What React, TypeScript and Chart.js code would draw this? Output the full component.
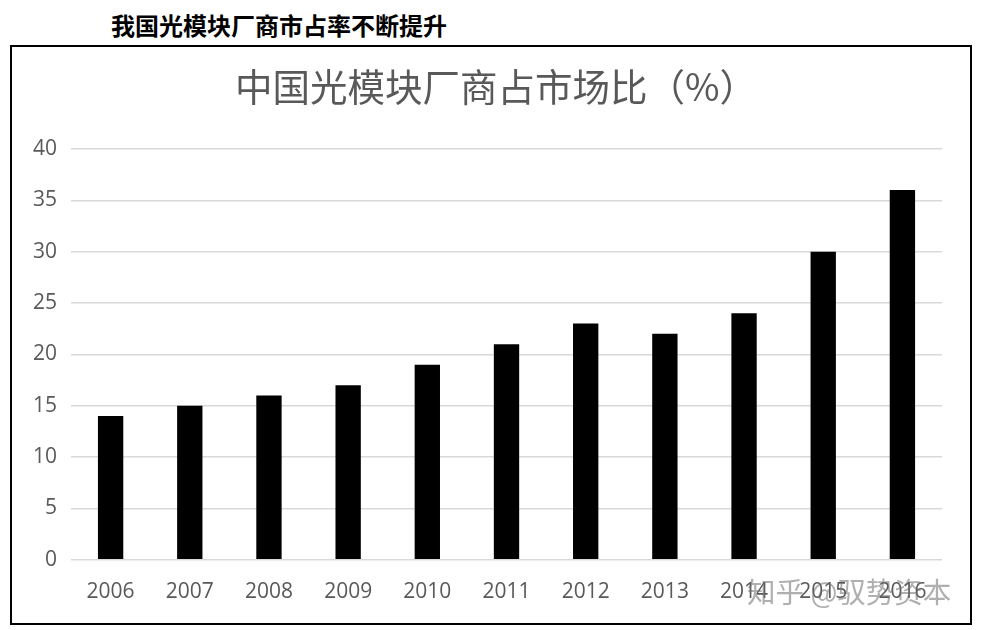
import React, { useEffect, useRef } from "react";
import { Chart, registerables } from "chart.js";

Chart.register(...registerables);

const categories = ["2006", "2007", "2008", "2009", "2010", "2011", "2012", "2013", "2014", "2015", "2016"];
const shareValues = [14, 15, 16, 17, 19, 21, 23, 22, 24, 30, 36];
const heading = "我国光模块厂商市占率不断提升";
const chartTitle = "中国光模块厂商占市场比（%）";
const watermark = "知乎 @驭势资本";

export default function App() {
  const ref = useRef<HTMLCanvasElement | null>(null);

  useEffect(() => {
    document.body.style.margin = "0";
    const ctx = ref.current;
    if (!ctx) return;
    const chart = new Chart(ctx, {
      type: "bar",
      data: {
        labels: categories,
        datasets: [
          {
            data: shareValues,
            backgroundColor: "#000000",
            borderWidth: 0,
            barPercentage: 0.32,
            categoryPercentage: 1,
          },
        ],
      },
      options: {
        animation: false,
        responsive: false,
        maintainAspectRatio: false,
        layout: { padding: { left: 7, right: 28, top: 102, bottom: 6 } },
        plugins: {
          legend: { display: false },
          tooltip: { enabled: false },
          title: { display: false },
        },
        scales: {
          x: {
            grid: { display: false },
            border: { display: false },
            ticks: {
              color: "#595959",
              font: { family: "'Open Sans', sans-serif", size: 21 },
              padding: 12,
              maxRotation: 0,
            },
          },
          y: {
            min: 0,
            max: 40,
            ticks: {
              stepSize: 5,
              color: "#595959",
              font: { family: "'Open Sans', sans-serif", size: 21 },
              padding: 14,
            },
            grid: { color: "#d9d9d9", lineWidth: 1.5, drawTicks: false },
            border: { display: false },
          },
        },
      },
    });
    return () => chart.destroy();
  }, []);

  return (
    <div style={{ position: "relative", width: 982, height: 630, background: "#fff", overflow: "hidden" }}>
      <div
        style={{
          position: "absolute",
          left: 111,
          top: 10,
          fontFamily: "'Noto Sans CJK SC', sans-serif",
          fontWeight: 700,
          fontSize: 24,
          lineHeight: "30px",
          color: "#000",
          whiteSpace: "nowrap",
        }}
      >
        {heading}
      </div>
      <div
        style={{
          position: "absolute",
          left: 10,
          top: 45,
          width: 962,
          height: 580,
          border: "2px solid #000",
          boxSizing: "border-box",
        }}
      >
        <canvas ref={ref} width={958} height={576} style={{ display: "block", width: 958, height: 576 }} />
      </div>
      <div
        style={{
          position: "absolute",
          left: 20,
          width: 952,
          top: 63,
          textAlign: "center",
          fontFamily: "'Noto Sans CJK SC', sans-serif",
          fontSize: 37.5,
          lineHeight: "44px",
          color: "#595959",
          whiteSpace: "nowrap",
        }}
      >
        {chartTitle}
      </div>
      <div
        style={{
          position: "absolute",
          left: 747,
          top: 573,
          fontFamily: "'Noto Sans CJK SC', sans-serif",
          fontSize: 28.5,
          lineHeight: "36px",
          color: "rgba(110,110,110,0.55)",
          whiteSpace: "nowrap",
        }}
      >
        {watermark}
      </div>
    </div>
  );
}
